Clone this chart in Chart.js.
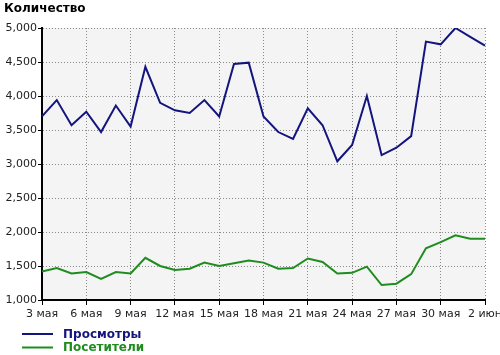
<!DOCTYPE html>
<html>
<head>
<meta charset="utf-8">
<script src="https://cdn.jsdelivr.net/npm/chart.js@4"></script>
<style>
body{margin:0;background:#fff;}
</style>
</head>
<body>
<canvas id="myChart" width="500" height="355"></canvas>
<script>
var days = ["3 мая","4 мая","5 мая","6 мая","7 мая","8 мая","9 мая","10 мая","11 мая","12 мая",
  "13 мая","14 мая","15 мая","16 мая","17 мая","18 мая","19 мая","20 мая","21 мая","22 мая",
  "23 мая","24 мая","25 мая","26 мая","27 мая","28 мая","29 мая","30 мая","31 мая","1 июн","2 июн"];
var prosmotry = [3700,3940,3570,3770,3470,3860,3550,4430,3900,3790,3750,3940,3700,4470,4490,
  3700,3470,3370,3820,3570,3040,3280,4000,3130,3240,3410,4800,4760,5000,4870,4740];
var posetiteli = [1420,1470,1390,1410,1310,1410,1390,1620,1500,1440,1460,1550,1500,1540,1580,
  1550,1460,1470,1610,1560,1390,1400,1490,1220,1240,1380,1760,1850,1950,1900,1900];
var yTicks = [1000,1500,2000,2500,3000,3500,4000,4500,5000];

Chart.defaults.font.family = "DejaVu Sans";
Chart.defaults.font.size = 11;
Chart.defaults.color = "#222";

// fon + naslov + legenda
var ukras = {
  id: "ukras",
  beforeDraw: function(chart){
    var c = chart.ctx, a = chart.chartArea;
    c.save();
    c.fillStyle = "#f4f4f4";
    c.fillRect(a.left, a.top, a.right - a.left, a.bottom - a.top);
    c.restore();
  },
  afterDraw: function(chart){
    var c = chart.ctx;
    c.save();
    c.font = "bold 12px DejaVu Sans";
    c.fillStyle = "#000";
    c.textBaseline = "middle";
    c.fillText("Количество", 4, 9);
    chart.data.datasets.forEach(function(ds, i){
      var y = 334 + i * 13.5;
      c.strokeStyle = ds.borderColor;
      c.lineWidth = 2;
      c.beginPath();
      c.moveTo(22, y);
      c.lineTo(53, y);
      c.stroke();
      c.fillStyle = ds.borderColor;
      c.fillText(ds.label, 63, y + 0.5);
    });
    c.restore();
  }
};

new Chart("myChart", {
  type: "line",
  data: {
    labels: days,
    datasets: [{
      label: "Просмотры",
      data: prosmotry,
      borderColor: "#14147e",
      borderWidth: 2,
      pointRadius: 0,
      fill: false
    }, {
      label: "Посетители",
      data: posetiteli,
      borderColor: "#1e8c1e",
      borderWidth: 2,
      pointRadius: 0,
      fill: false
    }]
  },
  plugins: [ukras],
  options: {
    responsive: false,
    animation: false,
    layout: {padding: {left: 0, right: 0, top: 28, bottom: 0}},
    plugins: {
      legend: {display: false},
      title: {display: false},
      tooltip: {enabled: false}
    },
    scales: {
      x: {
        afterFit: function(s){ s.height = 55; s.paddingLeft = 0; s.paddingRight = 15; },
        grid: {
          color: function(ctx){ return ctx.index % 3 === 0 ? "#8a8a8a" : "transparent"; },
          tickColor: function(ctx){ return ctx.index % 3 === 0 ? "#000" : "transparent"; },
          tickLength: 5,
          tickBorderDash: []
        },
        border: {display: true, color: "#000", width: 2, dash: [1, 2]},
        ticks: {
          autoSkip: false,
          maxRotation: 0,
          padding: 3,
          color: "#222",
          callback: function(v, i){ return i % 3 === 0 ? days[i] : ""; }
        }
      },
      y: {
        min: 1000,
        max: 5000,
        afterFit: function(s){ s.width = 42; s.paddingTop = 0; s.paddingBottom = 0; },
        afterBuildTicks: function(s){ s.ticks = yTicks.map(function(v){ return {value: v}; }); },
        grid: {color: "#8a8a8a", tickColor: "#000", tickLength: 4, tickBorderDash: []},
        border: {display: true, color: "#000", width: 2, dash: [1, 2]},
        ticks: {
          padding: 1,
          color: "#222",
          callback: function(v){ return v.toLocaleString("en-US"); }
        }
      }
    }
  }
});
</script>
</body>
</html>
